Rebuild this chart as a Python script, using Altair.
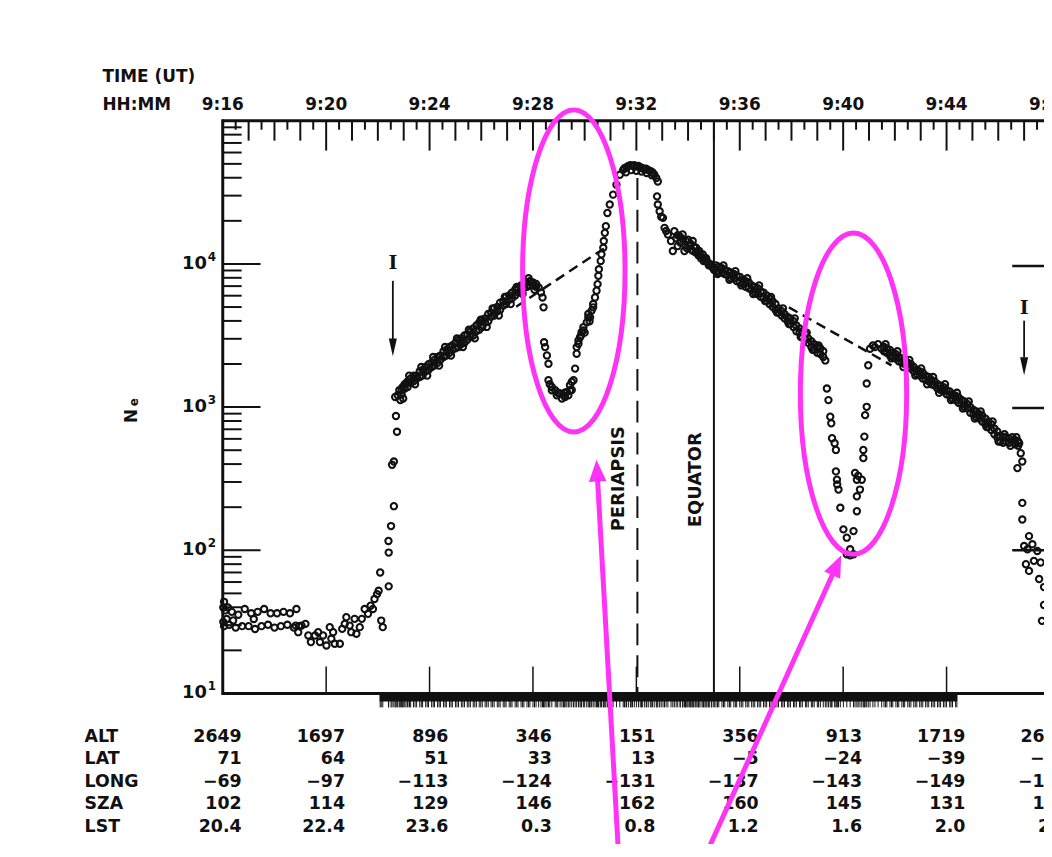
import altair as alt
import pandas as pd

# ---------------------------------------------------------------
# Values.
# time = minutes after 09:00 UT ; second number = log10(Ne)
# ---------------------------------------------------------------
flat_upper = [(16.02,1.60),(16.05,1.64),(16.10,1.58),(16.20,1.60),(16.35,1.57),(16.60,1.55),(16.85,1.59),
              (17.10,1.56),(17.35,1.57),(17.60,1.59),(17.85,1.56),(18.10,1.56),(18.35,1.57),
              (18.60,1.56),(18.85,1.59)]
flat_lower = [(16.02,1.50),(16.05,1.47),(16.15,1.52),(16.25,1.48),(16.40,1.51),(16.50,1.46),(16.75,1.47),
              (17.00,1.47),(17.20,1.52),(17.25,1.45),(17.50,1.47),(17.75,1.48),(18.00,1.46),
              (18.25,1.47),(18.50,1.48),(18.75,1.46),(18.95,1.47)]
middle = [(18.82,1.474),(18.92,1.428),(19.05,1.474),(19.20,1.486),(19.31,1.405),(19.41,1.359),
          (19.57,1.405),(19.69,1.428),(19.76,1.359),(19.88,1.405),(20.01,1.335),(20.14,1.463),
          (20.20,1.382),(20.27,1.428),(20.33,1.347),(20.53,1.347),(20.62,1.451),(20.72,1.486),
          (20.78,1.533),(20.91,1.474),(20.97,1.428),(21.10,1.521),(21.17,1.417),(21.30,1.463),
          (21.38,1.521),(21.49,1.590),(21.62,1.556),(21.72,1.613),(21.81,1.590),(21.87,1.660),
          (21.97,1.694),(22.03,1.717),(22.09,1.845),(22.13,1.509),(22.19,1.463),(22.42,1.748)]
rise = [(22.41,2.065),(22.42,1.984),(22.51,2.169),(22.55,2.597),(22.62,2.308),(22.62,2.620),
        (22.67,3.071),(22.70,2.938),(22.74,2.828),(22.77,3.083),(22.83,3.118),(22.87,3.049),
        (22.96,3.141),(23.09,3.165),(23.22,3.176)]
ramp = [(22.92,3.09),(22.92,3.12),(23.04,3.13),(23.04,3.16),(23.15,3.14),(23.15,3.18),
        (23.27,3.17),(23.27,3.20),(23.38,3.18),(23.38,3.22),(23.50,3.20),(23.50,3.22),
        (23.62,3.21),(23.62,3.25),(23.73,3.22),(23.73,3.26),(23.85,3.25),(23.85,3.28),
        (23.96,3.26),(23.96,3.30),(24.08,3.28),(24.08,3.31),(24.19,3.29),(24.19,3.33),
        (24.31,3.31),(24.31,3.35),(24.42,3.33),(24.42,3.36),(24.54,3.35),(24.54,3.39),
        (24.65,3.36),(24.65,3.40),(24.77,3.38),(24.77,3.42),(24.88,3.40),(24.88,3.43),
        (25.00,3.41),(25.00,3.45),(25.12,3.42),(25.12,3.47),(25.23,3.44),(25.23,3.48),
        (25.35,3.45),(25.35,3.50),(25.46,3.47),(25.46,3.51),(25.58,3.49),(25.58,3.53),
        (25.69,3.50),(25.69,3.55),(25.81,3.53),(25.81,3.57),(25.92,3.54),(25.92,3.59),
        (26.04,3.56),(26.04,3.61),(26.15,3.59),(26.15,3.62),(26.27,3.60),(26.27,3.65),
        (26.38,3.63),(26.38,3.66),(26.50,3.64),(26.50,3.69),(26.62,3.67),(26.62,3.70),
        (26.73,3.68),(26.73,3.73),(26.85,3.71),(26.85,3.74),(26.96,3.72),(26.96,3.77),
        (27.08,3.75),(27.08,3.78),(27.19,3.76),(27.19,3.80),(27.31,3.78),(27.31,3.82),
        (27.42,3.80),(27.42,3.83),(27.54,3.81),(27.54,3.85),(27.65,3.83),(27.65,3.86),
        (27.77,3.84),(27.77,3.87),(27.88,3.85),(27.88,3.88),(28.00,3.85),(28.00,3.87),
        (28.12,3.84),(28.12,3.86)]
ramp_edges = [(22.98,3.06),(23.21,3.22),(23.44,3.16),(23.68,3.28),(23.91,3.22),(24.14,3.35),
              (24.37,3.29),(24.60,3.42),(24.83,3.36),(25.06,3.48),(25.29,3.42),(25.52,3.54),
              (25.75,3.48),(25.98,3.61),(26.21,3.56),(26.44,3.69),(26.68,3.64),(26.91,3.77),
              (27.14,3.72),(27.37,3.84),(27.60,3.79),(27.83,3.90),(28.06,3.82)]
dip1 = [(28.22,3.835),(28.31,3.800),(28.37,3.766),(28.41,3.697),(28.43,3.453),(28.47,3.419),
        (28.54,3.361),(28.60,3.303),(28.60,3.188),(28.65,3.160),(28.73,3.141),(28.73,3.118),
        (28.86,3.118),(28.92,3.083),(28.96,3.100),(29.05,3.095),(29.12,3.060),(29.18,3.083),
        (29.23,3.100),(29.24,3.071),(29.31,3.106),(29.37,3.083),(29.43,3.153),(29.43,3.118),
        (29.50,3.120),(29.50,3.176),(29.57,3.188),(29.63,3.269),(29.69,3.373),(29.69,3.419),
        (29.76,3.442),(29.76,3.465),(29.82,3.488),(29.86,3.500),(29.88,3.523),(29.95,3.558),
        (29.95,3.535),(30.00,3.520),(30.08,3.592),(30.14,3.627),(30.14,3.650),(30.19,3.600),
        (30.21,3.627),(30.27,3.674),(30.33,3.720),(30.33,3.697),(30.40,3.766),(30.46,3.813),
        (30.50,3.859),(30.53,3.917),(30.55,3.963),(30.62,4.021),(30.65,4.067),(30.72,4.113),
        (30.74,4.160),(30.78,4.217),(30.82,4.264),(30.88,4.356),(30.97,4.415),(31.10,4.484),
        (31.23,4.553),(31.36,4.623)]
peak = [(31.49,4.657),(31.54,4.668),(31.62,4.675),(31.69,4.685),(31.77,4.690),(31.85,4.685),
        (31.92,4.690),(32.00,4.680),(32.08,4.685),(32.15,4.675),(32.23,4.670),(32.31,4.660),
        (32.38,4.665),(32.46,4.655),(32.54,4.650),(32.62,4.640),(32.69,4.625),(32.77,4.600),
        (32.83,4.576),(31.60,4.640),(31.80,4.655),(32.00,4.650),(32.20,4.645),(32.40,4.635),
        (32.60,4.620)]
descent_steep = [(32.80,4.472),(32.83,4.415),(32.90,4.368),(32.96,4.330),(33.03,4.322),(33.09,4.252),
                 (33.15,4.230),(33.22,4.206),(33.34,4.160),(33.41,4.090),(33.47,4.229),(33.54,4.180),
                 (33.60,4.125),(33.60,4.200),(33.69,4.190),(33.70,4.150),(33.79,4.206),(33.80,4.170),
                 (33.86,4.090),(33.90,4.130),(33.92,4.160),(33.96,4.110),(34.00,4.170),(34.05,4.137),
                 (34.10,4.140),(34.12,4.100),(34.18,4.160),(34.20,4.090),(34.23,4.120),(34.30,4.080),
                 (34.31,4.113),(34.38,4.080),(34.40,4.060),(34.43,4.090),(34.50,4.060),(34.50,4.040),
                 (34.57,4.067),(34.60,4.020),(34.62,4.040),(34.69,4.021),(34.70,4.040),(34.77,4.010),
                 (34.80,3.990),(34.82,3.997),(34.90,3.995),(34.92,3.980),(35.00,3.960),(35.01,3.974)]
descent_band = [(35.08,3.95),(35.08,3.99),(35.19,3.94),(35.19,3.98),(35.31,3.94),(35.31,3.97),
                (35.42,3.93),(35.42,3.96),(35.54,3.92),(35.54,3.95),(35.65,3.90),(35.65,3.94),
                (35.77,3.90),(35.77,3.93),(35.88,3.88),(35.88,3.92),(36.00,3.87),(36.00,3.91),
                (36.12,3.86),(36.12,3.89),(36.23,3.84),(36.23,3.88),(36.35,3.83),(36.35,3.87),
                (36.46,3.82),(36.46,3.85),(36.58,3.80),(36.58,3.84),(36.69,3.79),(36.69,3.83),
                (36.81,3.77),(36.81,3.81),(36.92,3.76),(36.92,3.80),(37.04,3.74),(37.04,3.78),
                (37.15,3.72),(37.15,3.76),(37.27,3.70),(37.27,3.74),(37.38,3.68),(37.38,3.72),
                (37.50,3.66),(37.50,3.69),(37.62,3.64),(37.62,3.67),(37.73,3.62),(37.73,3.65),
                (37.85,3.60),(37.85,3.63),(37.96,3.58),(37.96,3.62),(38.08,3.56),(38.08,3.60),
                (38.19,3.53),(38.19,3.57),(38.31,3.52),(38.31,3.55),(38.42,3.49),(38.42,3.53),
                (38.54,3.47),(38.54,3.51),(38.65,3.45),(38.65,3.48),(38.77,3.42),(38.77,3.46),
                (38.88,3.40),(38.88,3.44),(39.00,3.38),(39.00,3.42),(39.12,3.37),(39.12,3.41),
                (39.23,3.35),(39.23,3.39)]
descent_edges = [(35.14,3.93),(35.37,3.99),(35.60,3.89),(35.83,3.95),(36.06,3.85),(36.29,3.90),
                 (36.52,3.79),(36.75,3.85),(36.98,3.74),(37.21,3.77),(37.44,3.66),(37.67,3.69),
                 (37.90,3.58),(38.13,3.62),(38.36,3.49),(38.59,3.52),(38.82,3.40),(39.05,3.43)]
dip2 = [(39.31,3.326),(39.37,3.130),(39.43,3.049),(39.50,2.933),(39.54,2.887),(39.57,2.783),
        (39.67,2.748),(39.72,2.701),(39.72,2.551),(39.76,2.493),(39.77,2.460),(39.82,2.424),
        (39.89,2.297),(40.01,2.146),(40.14,2.088),(40.27,2.007),(40.40,1.972),(40.14,1.972),
        (40.27,1.965),(40.40,2.134),(40.53,2.273),(40.53,2.377),(40.65,2.424),(40.53,2.493),
        (40.72,2.493),(40.46,2.540),(40.58,2.520),(40.78,2.644),(40.78,2.701),(40.82,2.794),
        (40.85,2.944),(40.91,3.002),(40.91,3.165),(40.97,3.292),(41.04,3.408),(41.15,3.430),
        (41.23,3.419),(41.35,3.440),(41.49,3.408)]
tail_band = [(41.58,3.39),(41.58,3.42),(41.69,3.38),(41.69,3.41),(41.81,3.36),(41.81,3.40),
             (41.92,3.35),(41.92,3.38),(42.04,3.34),(42.04,3.37),(42.15,3.32),(42.15,3.35),
             (42.27,3.31),(42.27,3.34),(42.38,3.30),(42.38,3.33),(42.50,3.28),(42.50,3.31),
             (42.62,3.27),(42.62,3.30),(42.73,3.25),(42.73,3.28),(42.85,3.23),(42.85,3.26),
             (42.96,3.22),(42.96,3.25),(43.08,3.20),(43.08,3.24),(43.19,3.19),(43.19,3.22),
             (43.31,3.18),(43.31,3.21),(43.42,3.16),(43.42,3.19),(43.54,3.15),(43.54,3.18),
             (43.65,3.13),(43.65,3.16),(43.77,3.12),(43.77,3.15),(43.88,3.11),(43.88,3.14),
             (44.00,3.09),(44.00,3.12),(44.12,3.08),(44.12,3.11),(44.23,3.06),(44.23,3.09),
             (44.35,3.05),(44.35,3.08),(44.46,3.03),(44.46,3.07),(44.58,3.02),(44.58,3.05),
             (44.69,3.00),(44.69,3.04),(44.81,2.99),(44.81,3.02),(44.92,2.96),(44.92,3.00),
             (45.04,2.95),(45.04,2.98),(45.15,2.93),(45.15,2.97),(45.27,2.92),(45.27,2.95),
             (45.38,2.90),(45.38,2.94),(45.50,2.88),(45.50,2.92),(45.62,2.86),(45.62,2.90),
             (45.73,2.84),(45.73,2.88),(45.85,2.81),(45.85,2.85),(45.96,2.79),(45.96,2.83),
             (46.08,2.76),(46.08,2.80),(46.19,2.75),(46.19,2.79),(46.31,2.76),(46.31,2.79),
             (46.42,2.75),(46.42,2.78),(46.54,2.76),(46.54,2.79),(46.65,2.74),(46.65,2.77),
             (46.77,2.73),(46.77,2.76)]
tail_edges = [(41.64,3.44),(41.87,3.34),(42.10,3.39),(42.33,3.28),(42.56,3.33),(42.79,3.22),
              (43.02,3.27),(43.25,3.16),(43.48,3.21),(43.71,3.10),(43.94,3.16),(44.17,3.05),
              (44.40,3.10),(44.63,2.99),(44.86,3.04),(45.09,2.92),(45.32,2.97),(45.55,2.86),
              (45.78,2.90),(46.01,2.76),(46.24,2.81),(46.47,2.73),(46.70,2.79)]
tail_end = [(46.81,2.748),(46.87,2.678),(46.93,2.620),(46.74,2.574),(46.93,2.331),(46.93,2.215),
            (47.19,2.099),(47.00,2.030),(47.32,2.042),(47.13,2.007),(47.51,1.995),(47.07,1.903),
            (47.38,1.926),(47.64,1.915),(47.19,1.856),(47.58,1.799),(47.77,1.743),(47.77,1.618),
            (47.69,1.507)]

# top time axis and table below the plot
time_ticks = [16, 20, 24, 28, 32, 36, 40, 44, 48]
time_labels = ["9:16", "9:20", "9:24", "9:28", "9:32", "9:36", "9:40", "9:44", "9:48"]
row_names = ["ALT", "LAT", "LONG", "SZA", "LST"]
alt_row = ["2649", "1697", "896", "346", "151", "356", "913", "1719", "2650"]
lat_row = ["71", "64", "51", "33", "13", "−5", "−24", "−39", "−51"]
long_row = ["−69", "−97", "−113", "−124", "−131", "−137", "−143", "−149", "−155"]
sza_row = ["102", "114", "129", "146", "162", "160", "145", "131", "118"]
lst_row = ["20.4", "22.4", "23.6", "0.3", "0.8", "1.2", "1.6", "2.0", "2.4"]
decades = [10, 100, 1000, 10000]
decade_exp = ["1", "2", "3", "4"]

# reference lines / annotations (time, log10 Ne)
periapsis_t = 32.04
equator_t = 35.0
dashed_1 = [(27.35, 3.701), (30.77, 4.111)]
dashed_2 = [(37.90, 3.697), (41.87, 3.292)]
marker_left = {"t": 22.58, "text": 4.007, "shaft": (3.882, 3.451), "head": 3.417}
marker_right = {"t": 47.0, "text": 3.694, "shaft": (3.604, 3.347), "head": 3.285}
right_levels = [3.986, 2.993, 2.0]
rug_span = (22.07, 44.41)

# highlight overlay
ellipses = [(29.58, 3.951, 0.318, 162), (40.40, 3.094, 0.331, 161.5)]
arrows = [  # start(t, log), head centre (t, log), angle
    ((31.31, -0.125), (30.48, 2.556), 356.9),
    ((34.69, -0.125), (39.75, 1.896), 24.2),
]

# ---------------------------------------------------------------
W, H = 826, 576
PX_PER_MIN = 26.0
T_END = 16 + W / PX_PER_MIN
INK = "#111111"
MAG = "#ff33f5"
FONT = "DejaVu Sans"

XS = alt.Scale(domain=[16, T_END], nice=False, zero=False)
YS = alt.Scale(type="log", domain=[10, 100000], nice=False)


def X(f="t"):
    return alt.X(f"{f}:Q", scale=XS, axis=None)


def Y(f="ne"):
    return alt.Y(f"{f}:Q", scale=YS, axis=None)


segments = [flat_upper, flat_lower, middle, rise, ramp, ramp_edges, dip1, peak, descent_steep,
            descent_band, descent_edges, dip2, tail_band, tail_edges, tail_end]
pts = pd.DataFrame([(t, 10 ** lg) for seg in segments for t, lg in seg], columns=["t", "ne"])
one = pd.DataFrame({"a": [0]})

layers = []

# data points
layers.append(alt.Chart(pts).mark_point(shape="circle", size=40, filled=False, strokeWidth=2.1,
                                        color=INK, opacity=1).encode(x=X(), y=Y()))

# frame
layers.append(alt.Chart(one).mark_rule(strokeWidth=3, color=INK).encode(
    x=alt.value(0), y=alt.value(-1.5), y2=alt.value(H + 1.5)))
layers.append(alt.Chart(one).mark_rule(strokeWidth=3, color=INK).encode(
    x=alt.value(0), x2=alt.value(W), y=alt.value(0)))
layers.append(alt.Chart(one).mark_rule(strokeWidth=3, color=INK).encode(
    x=alt.value(0), x2=alt.value(W), y=alt.value(H)))

# y ticks
minor_vals = [m * 10 ** d for d in range(1, 5) for m in range(2, 10)]
layers.append(alt.Chart(pd.DataFrame({"ne": decades})).mark_rule(strokeWidth=2, color=INK).encode(
    y=Y(), x=alt.value(0), x2=alt.value(38)))
layers.append(alt.Chart(pd.DataFrame({"ne": minor_vals})).mark_rule(strokeWidth=2, color=INK).encode(
    y=Y(), x=alt.value(0), x2=alt.value(19)))

# y labels
ylab = pd.DataFrame({"ne": decades, "exp": decade_exp})
layers.append(alt.Chart(ylab).mark_text(text="10", font=FONT, fontWeight="bold", fontSize=18,
                                        align="right", baseline="middle", color=INK).encode(
    y=Y(), x=alt.value(-16)))
layers.append(alt.Chart(ylab).mark_text(font=FONT, fontWeight="bold", fontSize=12, align="left",
                                        baseline="middle", dy=-7, color=INK).encode(
    y=Y(), x=alt.value(-15), text="exp:N"))

# top ticks
major_t = [t for t in time_ticks if t < T_END]
minute_t = [m for m in range(17, 48) if m % 4 and m < T_END]
half_t = [m + 0.5 for m in range(16, 48) if m + 0.5 < T_END]
for vals, ln in [(major_t, 30), (minute_t, 20), (half_t, 9)]:
    layers.append(alt.Chart(pd.DataFrame({"t": vals})).mark_rule(strokeWidth=2, color=INK).encode(
        x=X(), y=alt.value(0), y2=alt.value(ln)))

# bottom ticks
layers.append(alt.Chart(pd.DataFrame({"t": major_t[1:]})).mark_rule(strokeWidth=1.5, color=INK).encode(
    x=X(), y=alt.value(H - 27), y2=alt.value(H)))

# top labels
layers.append(alt.Chart(pd.DataFrame({"t": time_ticks, "lab": time_labels})).mark_text(
    font=FONT, fontWeight="bold", fontSize=17, baseline="middle", color=INK).encode(
    x=X(), y=alt.value(-16), text="lab:N"))
layers.append(alt.Chart(one).mark_text(text="TIME (UT)", font=FONT, fontWeight="bold", fontSize=17,
                                       align="left", baseline="middle", color=INK).encode(
    x=alt.value(-121), y=alt.value(-44)))
layers.append(alt.Chart(one).mark_text(text="HH:MM", font=FONT, fontWeight="bold", fontSize=17,
                                       align="left", baseline="middle", color=INK).encode(
    x=alt.value(-121), y=alt.value(-16)))

# y title N_e
layers.append(alt.Chart(one).mark_text(text="N", font=FONT, fontWeight="bold", fontSize=17, angle=270,
                                       baseline="middle", color=INK).encode(
    x=alt.value(-91), y=alt.value(297)))
layers.append(alt.Chart(one).mark_text(text="e", font=FONT, fontWeight="bold", fontSize=12, angle=270,
                                       baseline="middle", color=INK).encode(
    x=alt.value(-89), y=alt.value(283)))

# table
row_y = [620, 642, 665, 687, 710]
rows = [alt_row, lat_row, long_row, sza_row, lst_row]
tab = []
for name, yy, vals in zip(row_names, row_y, rows):
    for t, v in zip(time_ticks, vals):
        tab.append({"t": t, "y": yy, "v": v})
tab = pd.DataFrame(tab)
for yy in row_y:
    sub = tab[tab.y == yy]
    layers.append(alt.Chart(sub).mark_text(font=FONT, fontWeight="bold", fontSize=17.5, align="right",
                                           baseline="middle", dx=19, color=INK).encode(
        x=X(), y=alt.value(yy), text="v:N"))
for name, yy in zip(row_names, row_y):
    layers.append(alt.Chart(one).mark_text(text=name, font=FONT, fontWeight="bold", fontSize=17.5,
                                           align="left", baseline="middle", color=INK).encode(
        x=alt.value(-139), y=alt.value(yy)))

# periapsis / equator
layers.append(alt.Chart(pd.DataFrame({"t": [periapsis_t], "ne": [10 ** 4.6], "ne2": [10]})).mark_rule(
    strokeWidth=2, strokeDash=[22, 10], color=INK).encode(x=X(), y=Y(), y2="ne2:Q"))
layers.append(alt.Chart(pd.DataFrame({"t": [equator_t]})).mark_rule(strokeWidth=2, color=INK).encode(
    x=X(), y=alt.value(0), y2=alt.value(H)))
layers.append(alt.Chart(one).mark_text(text="PERIAPSIS", font=FONT, fontWeight="bold", fontSize=18,
                                       angle=270, baseline="middle", color=INK).encode(
    x=alt.value(399), y=alt.value(360)))
layers.append(alt.Chart(one).mark_text(text="EQUATOR", font=FONT, fontWeight="bold", fontSize=18,
                                       angle=270, baseline="middle", color=INK).encode(
    x=alt.value(476), y=alt.value(361)))

# dashed baselines across the two dips
dl = pd.DataFrame([(i, t, 10 ** lg) for i, seg in enumerate([dashed_1, dashed_2]) for t, lg in seg],
                  columns=["seg", "t", "ne"])
layers.append(alt.Chart(dl).mark_line(strokeWidth=2.5, strokeDash=[10, 6], color=INK).encode(
    x=X(), y=Y(), detail="seg:N"))

# "I" markers with arrows
HEAD = "M-0.45,-1 L0.45,-1 L0,1 Z"
for mk in [marker_left, marker_right]:
    layers.append(alt.Chart(pd.DataFrame({"t": [mk["t"]], "ne": [10 ** mk["text"]]})).mark_text(
        text="I", font="DejaVu Serif", fontWeight="bold", fontSize=19, baseline="middle",
        color=INK).encode(x=X(), y=Y()))
    layers.append(alt.Chart(pd.DataFrame({"t": [mk["t"]], "ne": [10 ** mk["shaft"][0]],
                                          "ne2": [10 ** mk["shaft"][1]]})).mark_rule(
        strokeWidth=1.8, color=INK).encode(x=X(), y=Y(), y2="ne2:Q"))
    layers.append(alt.Chart(pd.DataFrame({"t": [mk["t"]], "ne": [10 ** mk["head"]]})).mark_point(
        shape=HEAD, size=324, filled=True, opacity=1, color=INK).encode(x=X(), y=Y()))
layers.append(alt.Chart(pd.DataFrame({"t": [46.54] * 3, "t2": [48.5] * 3,
                                      "ne": [10 ** v for v in right_levels]})).mark_rule(
    strokeWidth=2.5, color=INK).encode(x=X(), x2="t2:Q", y=Y()))

# rug of sample times below the axis
rug = pd.DataFrame({"t": sorted(set(t for t in pts.t if rug_span[0] <= t <= rug_span[1]))})
layers.append(alt.Chart(pd.DataFrame({"t": [rug_span[0]], "t2": [rug_span[1]]})).mark_rect(
    color=INK).encode(x=X(), x2="t2:Q", y=alt.value(H), y2=alt.value(H + 8)))
layers.append(alt.Chart(rug).mark_rule(strokeWidth=1, color=INK).encode(
    x=X(), y=alt.value(H), y2=alt.value(H + 14)))

# magenta highlight overlay
K = 0.5523
for (t, lg, a, half) in ellipses:
    ka = round(K * a, 4)
    path = (f"M0,-1 C{ka},-1 {a},-{K} {a},0 C{a},{K} {ka},1 0,1 "
            f"C-{ka},1 -{a},{K} -{a},0 C-{a},-{K} -{ka},-1 0,-1 Z")
    layers.append(alt.Chart(pd.DataFrame({"t": [t], "ne": [10 ** lg]})).mark_point(
        shape=path, size=(2 * half) ** 2, filled=False, strokeWidth=5, opacity=1, color=MAG).encode(
        x=X(), y=Y()))
ARROW = "M0,-1 L0.8,1 L-0.8,1 Z"
for (s, e, ang) in arrows:
    layers.append(alt.Chart(pd.DataFrame({"t": [s[0]], "t2": [e[0]], "ne": [10 ** s[1]],
                                          "ne2": [10 ** e[1]]})).mark_rule(
        strokeWidth=5, color=MAG).encode(x=X(), x2="t2:Q", y=Y(), y2="ne2:Q"))
    layers.append(alt.Chart(pd.DataFrame({"t": [e[0]], "ne": [10 ** e[1]]})).mark_point(
        shape=ARROW, size=484, filled=True, opacity=1, angle=ang, color=MAG).encode(x=X(), y=Y()))

chart = alt.layer(*layers).properties(
    width=W, height=H,
    padding={"left": 216, "top": 111, "right": 0, "bottom": 149},
    autosize=alt.AutoSizeParams(type="none"),
).configure_view(stroke=None)

chart.save("out.html", embed_options={"renderer": "svg", "actions": False})
